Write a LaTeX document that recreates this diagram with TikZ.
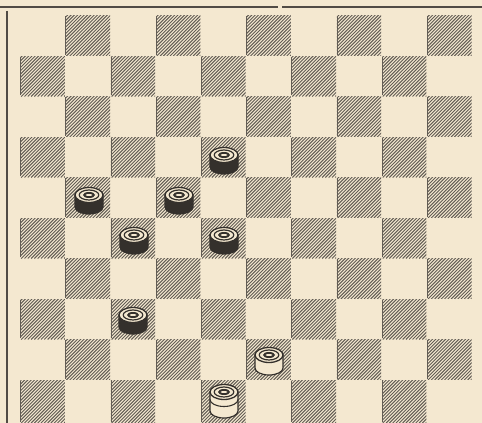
\documentclass[tikz,border=0pt]{standalone}
\definecolor{bg}{RGB}{244,232,208}
\definecolor{ink}{RGB}{98,92,84}
\definecolor{pdark}{RGB}{52,48,44}
\newcommand\pctop{%
  \filldraw[fill=bg,draw=pdark,line width=1.3] (0,0) ellipse[x radius=14,y radius=7.5];
  \draw[pdark,line width=1.2] (0,0) ellipse[x radius=9.8,y radius=5];
  \fill[pdark] (0,0) ellipse[x radius=6,y radius=3];
  \fill[bg] (0,0) ellipse[x radius=3.4,y radius=1];
}
\tikzset{
  hatch/.style={ink,line width=0.95},
  frame/.style={pdark!85!bg},
  bman/.pic={
    \filldraw[fill=pdark,draw=pdark,line width=1.2] (-14,0) -- (-14,-12)
      arc[start angle=180,end angle=360,x radius=14,y radius=7] -- (14,0) -- cycle;
    \pctop
  },
  wman/.pic={
    \filldraw[fill=bg,draw=pdark,line width=1.2] (-14,0) -- (-14,-13)
      arc[start angle=180,end angle=360,x radius=14,y radius=7] -- (14,0) -- cycle;
    \pctop
  },
  wking/.pic={
    \filldraw[fill=bg,draw=pdark,line width=1.2] (-14,0) -- (-14,-19)
      arc[start angle=180,end angle=360,x radius=14,y radius=7] -- (14,0) -- cycle;
    \draw[pdark,line width=1.1] (-14,-7.5)
      arc[start angle=180,end angle=360,x radius=14,y radius=7];
    \pctop
  }
}
\begin{document}
\begin{tikzpicture}[x=1pt,y=1pt]
\fill[bg] (0,0) rectangle (482,423);
\useasboundingbox (0,0) rectangle (482,423);
% frame lines
\draw[frame,line width=1.6] (0,416) -- (278,416);
\draw[frame,line width=1.6] (282,416) -- (482,416);
\draw[frame,line width=2] (6.5,412) -- (6.5,0);
% dark hatched squares
\foreach \r in {0,...,9}{
  \foreach \c in {0,...,9}{
    \pgfmathtruncatemacro\odd{mod(\r+\c,2)}
    \ifnum\odd=1
      \pgfmathsetmacro\xl{20+45.2*\c}
      \pgfmathsetmacro\yt{407.5-40.5*\r}
      \pgfmathsetmacro\yb{\r==9 ? 0 : \yt-40.5}
      \begin{scope}
        \clip (\xl+0.4,\yb+0.4) rectangle (\xl+44.8,\yt-0.4);
        \foreach \k in {0,...,28}
          \draw[hatch] ({\xl-45+\k*3.3},\yb) -- ++(45,45);
      \end{scope}
      \draw[ink,line width=0.9] (\xl+0.6,\yb+1) -- (\xl+0.6,\yt-1);
    \fi
  }
}
% pieces
\pic (p1) at (224,268) {bman};
\pic (p2) at (89,228) {bman};
\pic (p3) at (179,228) {bman};
\pic (p4) at (134,188) {bman};
\pic (p5) at (224,188) {bman};
\pic (p6) at (133,108) {bman};
\pic (p7) at (269,68) {wman};
\pic (p8) at (224,31) {wking};
\end{tikzpicture}
\end{document}
